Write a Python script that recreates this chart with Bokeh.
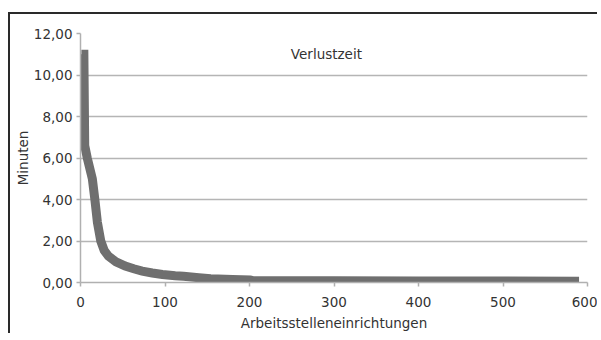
from bokeh.plotting import figure
from bokeh.models import FixedTicker, CustomJSTickFormatter, Label, Range1d
from bokeh.embed import file_html
from bokeh.resources import INLINE

# Rank of workplace facility (sorted by loss time, descending) and loss time in minutes
rank = [1, 4, 5, 8, 14, 17, 20, 24, 28, 33, 42, 53, 63, 73, 85, 97, 112, 122,
        140, 154, 180, 201, 205, 300, 400, 500, 590]
minutes = [11.0, 11.0, 6.6, 6.0, 5.0, 4.0, 2.9, 2.0, 1.55, 1.27, 1.0, 0.79, 0.66,
           0.55, 0.46, 0.39, 0.33, 0.30, 0.23, 0.18, 0.14, 0.12, 0.08, 0.08,
           0.07, 0.07, 0.06]

x_ticks = [0, 100, 200, 300, 400, 500, 600]
y_ticks = [0, 2, 4, 6, 8, 10, 12]

series_label = "Verlustzeit"
x_title = "Arbeitsstelleneinrichtungen"
y_title = "Minuten"

FONT = "DejaVu Sans"

p = figure(frame_width=507, frame_height=249,
           output_backend="svg", toolbar_location=None,
           x_range=Range1d(0, 600), y_range=Range1d(0, 12),
           min_border_left=70, min_border_right=10, min_border_top=19,
           min_border_bottom=50)
p.margin = (12, 0, 0, 8)
p.styles = {"border-top": "2px solid #2a2a2a", "border-left": "2px solid #2a2a2a"}
p.outline_line_color = None
p.background_fill_color = "white"
p.border_fill_color = "white"

p.line(rank, minutes, line_width=9, line_color="#6f6f6f", line_join="miter",
       line_cap="butt")

p.xaxis.ticker = FixedTicker(ticks=x_ticks)
p.yaxis.ticker = FixedTicker(ticks=y_ticks)
p.yaxis.formatter = CustomJSTickFormatter(code="return tick.toFixed(2).replace('.', ',');")

for ax in (p.xaxis[0], p.yaxis[0]):
    ax.axis_line_color = "#b0b0b0"
    ax.axis_line_width = 1.5
    ax.major_tick_line_color = "#b0b0b0"
    ax.major_tick_line_width = 1.5
    ax.major_tick_out = 4
    ax.major_tick_in = 0
    ax.minor_tick_line_color = None
    ax.major_label_text_font = FONT
    ax.major_label_text_font_size = "13.5px"
    ax.major_label_text_color = "#333333"
    ax.axis_label_text_font = FONT
    ax.axis_label_text_font_size = "13.5px"
    ax.axis_label_text_font_style = "normal"
    ax.axis_label_text_color = "#333333"

p.xaxis.axis_label = x_title
p.yaxis.axis_label = y_title
p.xaxis.major_label_standoff = 10
p.yaxis.major_label_standoff = 4
p.xaxis.axis_label_standoff = 5
p.yaxis.axis_label_standoff = 0

p.xgrid.grid_line_color = None
p.ygrid.grid_line_color = "#b5b5b5"
p.ygrid.grid_line_width = 1.5

p.add_layout(Label(x=291, y=11.0, text=series_label, text_align="center",
                   text_baseline="middle", text_font=FONT, text_font_size="13.5px",
                   text_color="#333333"))

open("out.html", "w").write(file_html(p, INLINE))
